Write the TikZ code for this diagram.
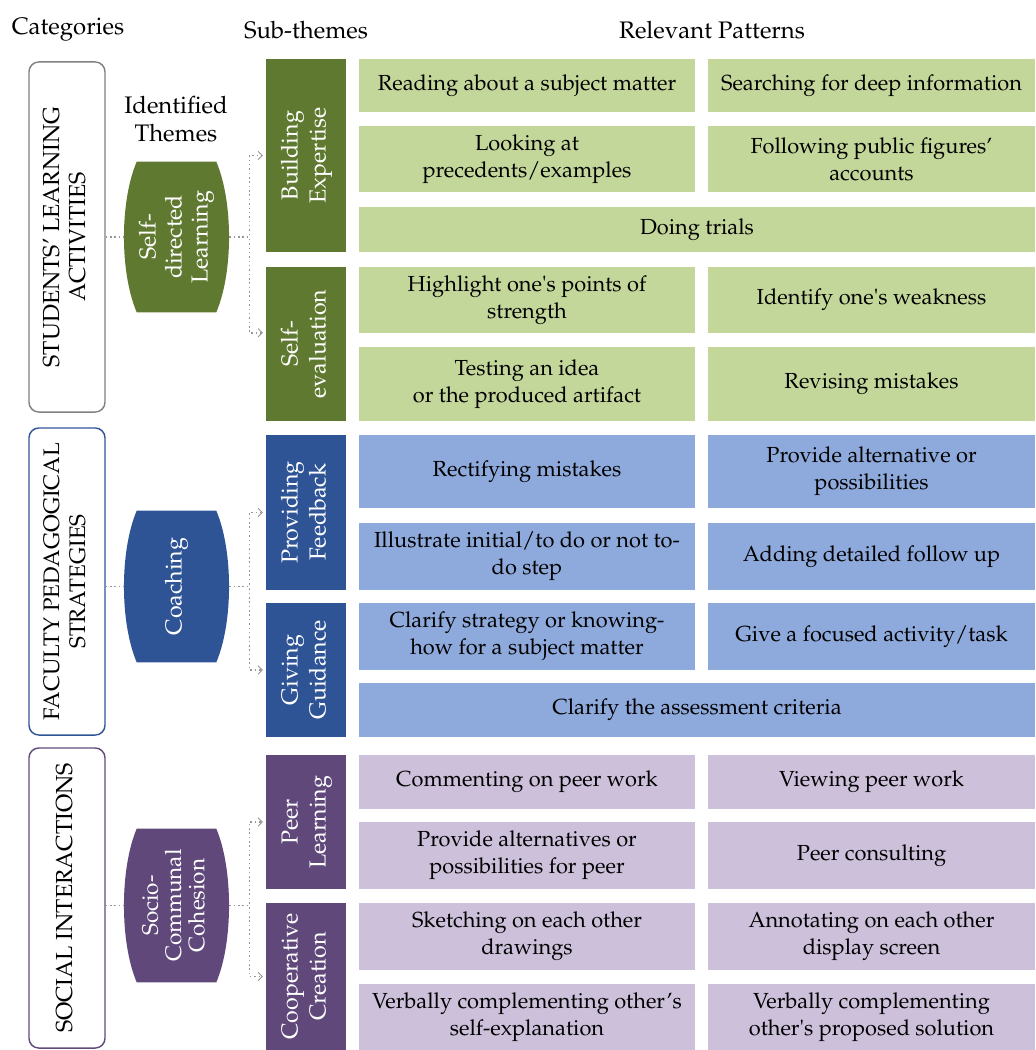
\documentclass[tikz,border=0pt]{standalone}
\usepackage[T1]{fontenc}
\usepackage{mathpazo}
\usepackage{textcomp}
\usetikzlibrary{arrows.meta,backgrounds,calc}
\definecolor{olivedark}{RGB}{95,122,48}
\definecolor{olivelight}{RGB}{196,215,155}
\definecolor{bluedark}{RGB}{47,84,150}
\definecolor{bluelight}{RGB}{142,169,219}
\definecolor{plumdark}{RGB}{96,73,122}
\definecolor{plumlight}{RGB}{204,192,218}
\definecolor{linkgray}{RGB}{150,150,150}
\definecolor{framegray}{RGB}{128,128,128}
% vertical (rotated) multi-line text
\newcommand{\vtext}[1]{\rotatebox{90}{\begin{tabular}{@{}c@{}}#1\end{tabular}}}
% barrel shape behind a theme node
\newcommand{\barrel}[2]{%
  \fill[#2] ($(#1.north west)+(13,0)$) -- ($(#1.north east)+(-13,0)$)
    .. controls ($(#1.north east)+(4,40)$) and ($(#1.south east)+(4,-40)$) .. ($(#1.south east)+(-13,0)$)
    -- ($(#1.south west)+(13,0)$)
    .. controls ($(#1.south west)+(-4,-40)$) and ($(#1.north west)+(-4,40)$) .. cycle;}

\begin{document}
\begin{tikzpicture}[x=0.025cm, y=-0.025cm,
    head/.style={font=\fontsize{17}{20}\selectfont, align=center},
    cat/.style={draw, line width=1pt, rounded corners=7pt, minimum width=1.9cm, inner sep=0pt,
                font=\fontsize{16.5}{18.5}\selectfont},
    theme/.style={minimum width=2.625cm, inner sep=0pt, text=white, font=\fontsize{16.5}{18.5}\selectfont},
    sub/.style={minimum width=2cm, inner sep=0pt, text=white, font=\fontsize{16.5}{20}\selectfont},
    pat/.style={align=center, inner sep=0pt, font=\fontsize{15.5}{19}\selectfont},
    patL/.style={pat, minimum width=8.4cm},
    patR/.style={pat, minimum width=8.175cm},
    patW/.style={pat, minimum width=16.9cm},
    link/.style={draw=linkgray, dotted, line width=1.1pt},
    linkto/.style={link, -{Straight Barb[length=3pt,width=6pt,line width=0.6pt]}, shorten >=2pt}
]
    \useasboundingbox (0,0) rectangle (1035,1050);

    % column heads
    \node[head] (hcat) at (68,30) {Categories};
    \node[head] (hsub) at (306,30) {Sub-themes};
    \node[head] (hpat) at (712,30) {Relevant Patterns};
    \node[head] (hthm) at (176,119) {Identified\\Themes};

    % categories
    \node[cat, draw=framegray, minimum height=8.75cm] (sla) at (67,237) {\vtext{STUDENTS' LEARNING\\ACTIVITIES}};
    \node[cat, draw=bluedark, minimum height=7.675cm, font=\fontsize{16}{18.5}\selectfont] (fps) at (67,581.5) {\vtext{FACULTY PEDAGOGICAL\\STRATEGIES}};
    \node[cat, draw=plumdark, minimum height=7.5cm] (si) at (67,898) {\vtext{SOCIAL INTERACTIONS}};

    % identified themes
    \node[theme, minimum height=3.75cm] (sdl) at (176.5,237) {\vtext{Self-\\directed\\Learning}};
    \node[theme, minimum height=3.775cm] (coach) at (176.5,586.5) {\vtext{Coaching}};
    \node[theme, minimum height=3.825cm, font=\fontsize{16}{16.5}\selectfont] (scc) at (176.5,905.5) {\vtext{Socio-\\Communal\\Cohesion}};
    \begin{scope}[on background layer]
        \barrel{sdl}{olivedark}
        \barrel{coach}{bluedark}
        \barrel{scc}{plumdark}
    \end{scope}

    % sub-themes
    \node[sub, fill=olivedark, minimum height=4.825cm] (be) at (306,155.5) {\vtext{Building\\Expertise}};
    \node[sub, fill=olivedark, minimum height=3.85cm] (se) at (306,344) {\vtext{Self-\\evaluation}};
    \node[sub, fill=bluedark, minimum height=3.875cm] (pf) at (306,512.5) {\vtext{Providing\\Feedback}};
    \node[sub, fill=bluedark, minimum height=3.35cm] (gg) at (306,670) {\vtext{Giving\\Guidance}};
    \node[sub, fill=plumdark, minimum height=3.35cm] (pl) at (306,822) {\vtext{Peer\\Learning}};
    \node[sub, fill=plumdark, minimum height=3.675cm] (cc) at (306,976.5) {\vtext{Cooperative\\Creation}};

    % relevant patterns
    \node[patL, fill=olivelight, minimum height=1.325cm] (g1a) at (527,85.5) {Reading about a subject matter};
    \node[patR, fill=olivelight, minimum height=1.325cm] (g1b) at (871.5,85.5) {Searching for deep information};
    \node[patL, fill=olivelight, minimum height=1.65cm] (g2a) at (527,159) {Looking at\\precedents/examples};
    \node[patR, fill=olivelight, minimum height=1.65cm] (g2b) at (871.5,159) {Following public figures'\\accounts};
    \node[patW, fill=olivelight, minimum height=1.125cm] (g3) at (697,229.5) {Doing trials};
    \node[patL, fill=olivelight, minimum height=1.65cm] (g4a) at (527,300) {Highlight one\textquotesingle s points of\\strength};
    \node[patR, fill=olivelight, minimum height=1.65cm] (g4b) at (871.5,300) {Identify one\textquotesingle s weakness};
    \node[patL, fill=olivelight, minimum height=1.85cm] (g5a) at (527,384) {Testing an idea\\or the produced artifact};
    \node[patR, fill=olivelight, minimum height=1.85cm] (g5b) at (871.5,384) {Revising mistakes};

    \node[patL, fill=bluelight, minimum height=1.825cm] (b1a) at (527,471.5) {Rectifying mistakes};
    \node[patR, fill=bluelight, minimum height=1.825cm] (b1b) at (871.5,471.5) {Provide alternative or\\possibilities};
    \node[patL, fill=bluelight, minimum height=1.675cm] (b2a) at (527,556.5) {Illustrate initial/to do or not to-\\do step};
    \node[patR, fill=bluelight, minimum height=1.675cm] (b2b) at (871.5,556.5) {Adding detailed follow up};
    \node[patL, fill=bluelight, minimum height=1.675cm] (b3a) at (527,636.5) {Clarify strategy or knowing-\\how for a subject matter};
    \node[patR, fill=bluelight, minimum height=1.675cm] (b3b) at (871.5,636.5) {Give a focused activity/task};
    \node[patW, fill=bluelight, minimum height=1.35cm] (b4) at (697,710) {Clarify the assessment criteria};

    \node[patL, fill=plumlight, minimum height=1.35cm] (u1a) at (527,782) {Commenting on peer work};
    \node[patR, fill=plumlight, minimum height=1.35cm] (u1b) at (871.5,782) {Viewing peer work};
    \node[patL, fill=plumlight, minimum height=1.675cm] (u2a) at (527,855.5) {Provide alternatives or\\possibilities for peer};
    \node[patR, fill=plumlight, minimum height=1.675cm] (u2b) at (871.5,855.5) {Peer consulting};
    \node[patL, fill=plumlight, minimum height=1.675cm] (u3a) at (527,936.5) {Sketching on each other\\drawings};
    \node[patR, fill=plumlight, minimum height=1.675cm] (u3b) at (871.5,936.5) {Annotating on each other\\display screen};
    \node[patL, fill=plumlight, minimum height=1.65cm] (u4a) at (527,1017) {Verbally complementing other's\\self-explanation};
    \node[patR, fill=plumlight, minimum height=1.65cm] (u4b) at (871.5,1017) {Verbally complementing\\other\textquotesingle s proposed solution};

    % connectors
    \draw[link] (sla.east |- sdl.west) -- (sdl.west);
    \draw[link] (fps.east |- coach.west) -- (coach.west);
    \draw[link] (si.east |- scc.west) -- (scc.west);
    \draw[linkto] (sdl.east) -- ++(20,0) |- (be.west);
    \draw[linkto] (sdl.east) -- ++(20,0) |- ([yshift=8pt]se.west);
    \draw[linkto] (coach.east) -- ++(20,0) |- (pf.west);
    \draw[linkto] (coach.east) -- ++(20,0) |- (gg.west);
    \draw[linkto] (scc.east) -- ++(20,0) |- (pl.west);
    \draw[linkto] (scc.east) -- ++(20,0) |- (cc.west);
\end{tikzpicture}
\end{document}
